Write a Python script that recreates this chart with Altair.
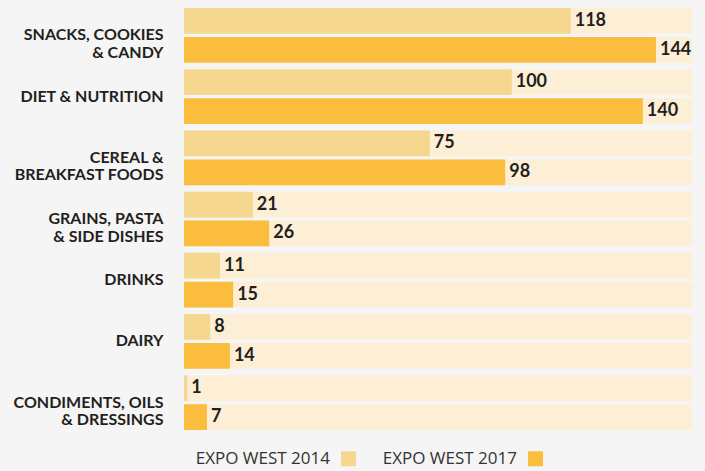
import altair as alt
import pandas as pd

categories = [
    "SNACKS, COOKIES|& CANDY",
    "DIET & NUTRITION",
    "CEREAL &|BREAKFAST FOODS",
    "GRAINS, PASTA|& SIDE DISHES",
    "DRINKS",
    "DAIRY",
    "CONDIMENTS, OILS|& DRESSINGS",
]
series = ["EXPO WEST 2014", "EXPO WEST 2017"]
values_2014 = [118, 100, 75, 21, 11, 8, 1]
values_2017 = [144, 140, 98, 26, 15, 14, 7]
colors = ["#f5d78f", "#fbbd3d"]
X_MAX = 155

rows = []
for c, a, b in zip(categories, values_2014, values_2017):
    rows.append({"category": c, "series": series[0], "value": a})
    rows.append({"category": c, "series": series[1], "value": b})
df = pd.DataFrame(rows)

y = alt.Y(
    "category:N",
    sort=categories,
    scale=alt.Scale(paddingInner=0.106, paddingOuter=0),
    axis=alt.Axis(
        title=None, domain=False, ticks=False,
        labelExpr="split(datum.value, '|')",
        labelFont="Lato", labelFontWeight="bold", labelFontSize=16,
        labelColor="#231f20", labelPadding=21, labelLineHeight=17.7,
        labelLimit=300,
    ),
)
yo = alt.YOffset("series:N", sort=series, scale=alt.Scale(paddingInner=0.11, paddingOuter=0))
xscale = alt.Scale(domain=[0, X_MAX], nice=False, zero=True)

base = alt.Chart(df).encode(y=y, yOffset=yo)

track = base.mark_bar(color="#fdefd6").encode(
    x=alt.X(datum=X_MAX, type="quantitative", scale=xscale, axis=None),
    x2=alt.X2(datum=0),
)

bars = base.mark_bar().encode(
    x=alt.X("value:Q", scale=xscale, axis=None),
    color=alt.Color(
        "series:N",
        scale=alt.Scale(domain=series, range=colors),
        legend=alt.Legend(
            title=None, orient="none", legendX=156, legendY=442,
            direction="horizontal", symbolType="square", symbolSize=225,
            symbolStrokeWidth=0, labelFont="Open Sans", labelFontSize=17,
            labelColor="#333333", labelAlign="right", labelOffset={"expr": "-27"},
            columnPadding=26, padding=0, symbolOffset=0,
        ),
    ),
)

labels = base.mark_text(
    align="left", baseline="middle", dx=4, font="Lato", fontWeight="bold",
    fontSize=18, color="#231f20",
).encode(x=alt.X("value:Q", scale=xscale, axis=None), text="value:Q")

chart = alt.layer(track, bars, labels).properties(
    width=508, height=422,
    padding={"left": 184, "top": 8, "right": 13, "bottom": 41},
    autosize=alt.AutoSizeParams(type="none"),
    background="#f5f5f5",
).configure_view(stroke=None)

chart.save("out.html", embed_options={"renderer": "svg", "actions": False})
